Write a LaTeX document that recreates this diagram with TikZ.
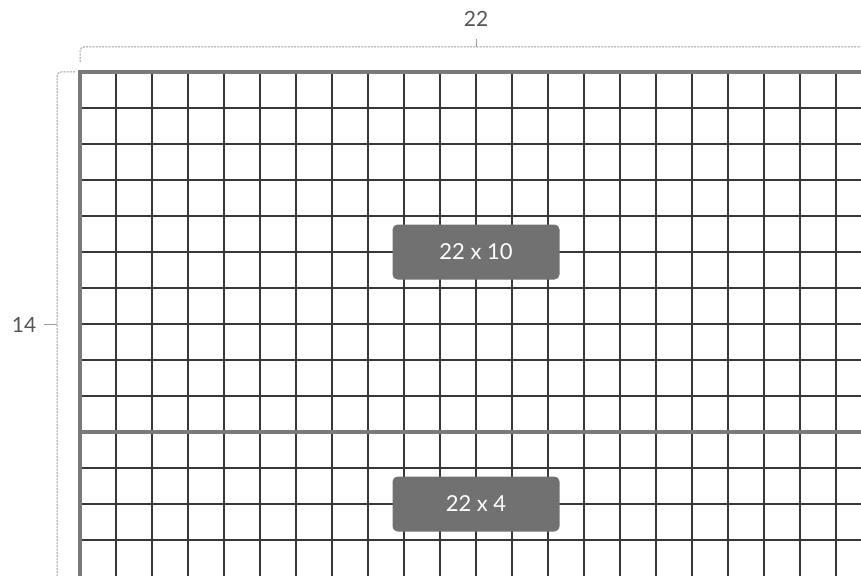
\documentclass[tikz,border=0pt]{standalone}
\usepackage{fontspec}
\setmainfont{Lato}
\definecolor{gridline}{HTML}{383838}
\definecolor{border}{HTML}{7A7A7A}
\definecolor{dimline}{HTML}{9A9A9A}
\definecolor{labfill}{HTML}{717171}
\definecolor{dimtext}{HTML}{555555}
\tikzset{
  gridstroke/.style={draw=gridline, line width=1.3pt},
  borderstroke/.style={draw=border, line width=4pt},
  dimstroke/.style={draw=dimline, line width=1pt, dash pattern=on 2pt off 1.2pt},
  dimlabel/.style={text=dimtext, font=\fontsize{21}{23}\selectfont, inner sep=0pt},
  sizelabel/.style={fill=labfill, rounded corners=5pt, minimum width=167pt, minimum height=55pt, text=white, font=\fontsize{22}{24}\selectfont, inner sep=0pt}
}
\begin{document}
\begin{tikzpicture}[x=1pt,y=-1pt]
\useasboundingbox (0,0) rectangle (861,575);
\begin{scope}
\clip (0,0) rectangle (861,575);
% inner grid
\foreach \i in {1,...,21} {
  \draw[gridstroke] (80+36*\i,72) -- (80+36*\i,576);
}
\foreach \j in {1,...,13} {
  \draw[gridstroke] (80,72+36*\j) -- (872,72+36*\j);
}
% borders
\draw[borderstroke] (80,578) -- (80,72) -- (874,72);
\draw[borderstroke] (80,432) -- (874,432);
% dimension lines
\coordinate (tl) at (80,62);
\coordinate (tr) at (872,62);
\coordinate (tm) at (476,47);
\coordinate (tt) at (476,39);
\draw[dimstroke, rounded corners=4pt] (tl) -- (80,47) -- (872,47) -- (tr);
\draw[dimstroke, dash pattern=] (tm) -- (tt);
\coordinate (lt) at (75,72);
\coordinate (lb) at (57,580);
\coordinate (lm) at (57,324);
\coordinate (lk) at (44,324);
\draw[dimstroke, rounded corners=4pt] (lt) -- (57,72) -- (lb);
\draw[dimstroke, dash pattern=] (lm) -- (lk);
\end{scope}
\node[dimlabel] (w) at (476,19) {22};
\node[dimlabel] (h) at (24,325) {14};
\node[sizelabel] (a) at (476,252) {22 x 10};
\node[sizelabel] (b) at (476,504) {22 x 4};
\end{tikzpicture}
\end{document}
